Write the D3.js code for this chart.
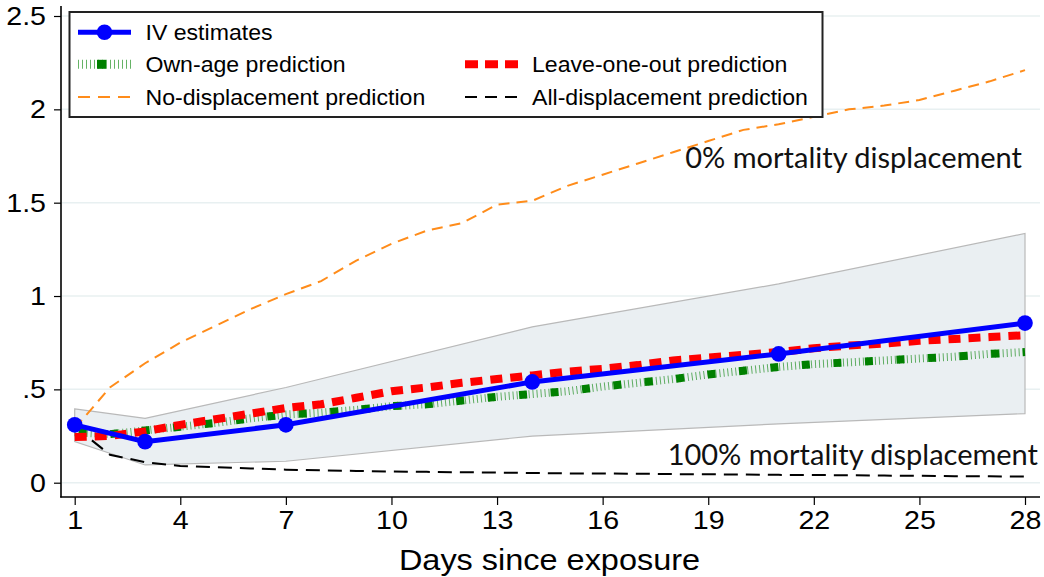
<!DOCTYPE html>
<html><head><meta charset="utf-8">
<script src="https://cdn.jsdelivr.net/npm/d3@7"></script>
<style>body{margin:0;background:#fff} svg{display:block}</style>
</head><body><svg id="c" width="1044" height="577"></svg>
<script>
const days = [1,2,3,4,5,6,7,8,9,10,11,12,13,14,15,16,17,18,19,20,21,22,23,24,25,26,27,28];
const ivDays = [1,3,7,14,21,28];
const ivEstimates = [0.31,0.22,0.31,0.54,0.69,0.855];
const ciUpper = [0.395,0.345,0.51,0.835,1.065,1.335];
const ciLower = [0.22,0.095,0.115,0.25,0.315,0.37];
const ownAge = [0.27,0.26,0.28,0.30,0.32,0.345,0.365,0.375,0.39,0.41,0.42,0.44,0.46,0.475,0.49,0.515,0.535,0.555,0.58,0.60,0.62,0.635,0.645,0.655,0.665,0.675,0.69,0.70];
const leaveOneOut = [0.245,0.25,0.275,0.31,0.34,0.37,0.40,0.42,0.455,0.49,0.51,0.535,0.555,0.575,0.595,0.61,0.63,0.655,0.67,0.685,0.70,0.72,0.735,0.745,0.76,0.77,0.78,0.79];
const noDisplacement = [0.29,0.51,0.64,0.75,0.84,0.93,1.01,1.08,1.19,1.28,1.35,1.39,1.49,1.51,1.59,1.65,1.71,1.77,1.83,1.89,1.92,1.96,2.00,2.02,2.05,2.10,2.15,2.21];
const allDisplacement = [0.30,0.15,0.11,0.09,0.083,0.076,0.07,0.066,0.063,0.06,0.058,0.056,0.054,0.052,0.05,0.049,0.048,0.046,0.045,0.044,0.042,0.041,0.04,0.038,0.037,0.035,0.034,0.033];
const xTicks = [1,4,7,10,13,16,19,22,25,28];
const yTicks = [0,0.5,1,1.5,2,2.5];
const yTickLabels = ["0",".5","1","1.5","2","2.5"];
const legendLabels = ["IV estimates","Own-age prediction","Leave-one-out prediction","No-displacement prediction","All-displacement prediction"];
const annotations = ["0% mortality displacement","100% mortality displacement"];
const xTitle = "Days since exposure";

const svg = d3.select("#c");
const x = d3.scaleLinear().domain([1,28]).range([74.7,1025]);
const y = d3.scaleLinear().domain([0,2.5]).range([482.7,16]);
const axisFont = "'Liberation Sans', Arial, sans-serif";
const GREEN = "#008000", RED = "#ff0000", BLUE = "#0000ff", ORANGE = "#ff8c1a";
const SX = 1.1; // horizontal stretch of Stata text

// gridlines
svg.append("g").selectAll("line").data(yTicks).join("line")
  .attr("x1",62).attr("x2",1040).attr("y1",d=>y(d)).attr("y2",d=>y(d))
  .attr("stroke","#e8f0f1").attr("stroke-width",1.5);

// CI band
const band = ivDays.map((d,i)=>({d, lo:ciLower[i], hi:ciUpper[i]}));
svg.append("path").datum(band)
  .attr("d", d3.area().x(p=>x(p.d)).y0(p=>y(p.lo)).y1(p=>y(p.hi)))
  .attr("fill","#eaeff2").attr("stroke","#b9b9b9").attr("stroke-width",1.2);

const line = d3.line().x((v,i)=>x(days[i])).y(v=>y(v));

svg.append("path").datum(noDisplacement).attr("d",line)
  .attr("fill","none").attr("stroke",ORANGE).attr("stroke-width",2).attr("stroke-dasharray","11,7");
svg.append("path").datum(allDisplacement).attr("d",line)
  .attr("fill","none").attr("stroke","#000").attr("stroke-width",2).attr("stroke-dasharray","14,8");
svg.append("path").datum(ownAge).attr("d",line)
  .attr("fill","none").attr("stroke",GREEN).attr("stroke-opacity",0.6).attr("stroke-width",8).attr("stroke-dasharray","1,3");
svg.append("path").datum(ownAge).attr("d",line)
  .attr("fill","none").attr("stroke",GREEN).attr("stroke-width",8).attr("stroke-dasharray","8,23.6").attr("stroke-dashoffset",-4);
svg.append("path").datum(leaveOneOut).attr("d",line)
  .attr("fill","none").attr("stroke",RED).attr("stroke-width",8).attr("stroke-dasharray","12,8");
const ivLine = d3.line().x((v,i)=>x(ivDays[i])).y(v=>y(v));
svg.append("path").datum(ivEstimates).attr("d",ivLine)
  .attr("fill","none").attr("stroke",BLUE).attr("stroke-width",5);
svg.append("g").selectAll("circle").data(ivEstimates).join("circle")
  .attr("cx",(v,i)=>x(ivDays[i])).attr("cy",v=>y(v)).attr("r",7.8).attr("fill",BLUE);

// axes
const yAxis = d3.axisLeft(y).tickValues(yTicks).tickFormat((d,i)=>yTickLabels[i]).tickSize(7).tickPadding(8).tickSizeOuter(0);
const gy = svg.append("g").attr("transform","translate(61,0)").call(yAxis);
gy.select(".domain").remove();
gy.selectAll("text").attr("font-family",axisFont).attr("font-size",26).attr("fill","#000")
  .attr("x",-15/SX).attr("transform",`scale(${SX},1)`);
gy.selectAll("line").attr("stroke","#000").attr("stroke-width",1.2);
svg.append("line").attr("x1",61).attr("x2",61).attr("y1",6).attr("y2",497.5).attr("stroke","#000").attr("stroke-width",1.6);

const xAxis = d3.axisBottom(x).tickValues(xTicks).tickFormat(d3.format("d")).tickSize(8).tickPadding(6).tickSizeOuter(0);
const gx = svg.append("g").attr("transform","translate(0,497)").call(xAxis);
gx.select(".domain").remove();
gx.selectAll("text").attr("font-family",axisFont).attr("font-size",26).attr("fill","#000")
  .attr("transform",`scale(${SX},1)`);
gx.selectAll("line").attr("stroke","#000").attr("stroke-width",1.2);
svg.append("line").attr("x1",60.2).attr("x2",1040).attr("y1",497).attr("y2",497).attr("stroke","#000").attr("stroke-width",1.6);

svg.append("text").attr("x",549.5/SX).attr("y",570).attr("text-anchor","middle")
  .attr("transform",`scale(${SX},1)`)
  .attr("font-family",axisFont).attr("font-size",29.5).attr("fill","#000").text(xTitle);

// annotations
svg.append("text").attr("x",1022).attr("y",168).attr("text-anchor","end")
  .attr("font-family","Lato, sans-serif").attr("font-size",29).attr("fill","#111").text(annotations[0]);
svg.append("text").attr("x",1038).attr("y",465).attr("text-anchor","end")
  .attr("font-family","Lato, sans-serif").attr("font-size",29).attr("fill","#111").text(annotations[1]);

// legend
const lg = svg.append("g");
lg.append("rect").attr("x",69.5).attr("y",12).attr("width",753).attr("height",105)
  .attr("fill","#fff").attr("stroke","#222").attr("stroke-width",2);
const rows = [32.3,64.3,97];
const c1 = 78, c2 = 465, symW = 53;
lg.append("line").attr("x1",c1).attr("x2",c1+symW).attr("y1",rows[0]).attr("y2",rows[0]).attr("stroke",BLUE).attr("stroke-width",5);
lg.append("circle").attr("cx",c1+symW/2).attr("cy",rows[0]).attr("r",7.8).attr("fill",BLUE);
lg.append("line").attr("x1",c1).attr("x2",c1+symW).attr("y1",rows[1]).attr("y2",rows[1]).attr("stroke",GREEN).attr("stroke-opacity",0.6).attr("stroke-width",9).attr("stroke-dasharray","1,3");
lg.append("rect").attr("x",c1+19).attr("y",rows[1]-4.5).attr("width",9).attr("height",9).attr("fill",GREEN);
lg.append("line").attr("x1",c2).attr("x2",c2+symW).attr("y1",rows[1]).attr("y2",rows[1]).attr("stroke",RED).attr("stroke-width",8).attr("stroke-dasharray","13,7");
lg.append("line").attr("x1",c1).attr("x2",c1+symW).attr("y1",rows[2]).attr("y2",rows[2]).attr("stroke",ORANGE).attr("stroke-width",2).attr("stroke-dasharray","12,8");
lg.append("line").attr("x1",c2).attr("x2",c2+symW).attr("y1",rows[2]).attr("y2",rows[2]).attr("stroke","#000").attr("stroke-width",2).attr("stroke-dasharray","12,8");
const LSX = 1.05;
const lt = [[legendLabels[0],145.5,rows[0]],[legendLabels[1],145.5,rows[1]],[legendLabels[2],532,rows[1]],[legendLabels[3],145.5,rows[2]],[legendLabels[4],532,rows[2]]];
lg.selectAll("text.l").data(lt).join("text").attr("class","l")
  .attr("x",d=>d[1]/LSX).attr("y",d=>d[2]).attr("dy","0.36em").attr("transform",`scale(${LSX},1)`)
  .attr("font-family",axisFont).attr("font-size",22).attr("fill","#000").text(d=>d[0]);
</script></body></html>
